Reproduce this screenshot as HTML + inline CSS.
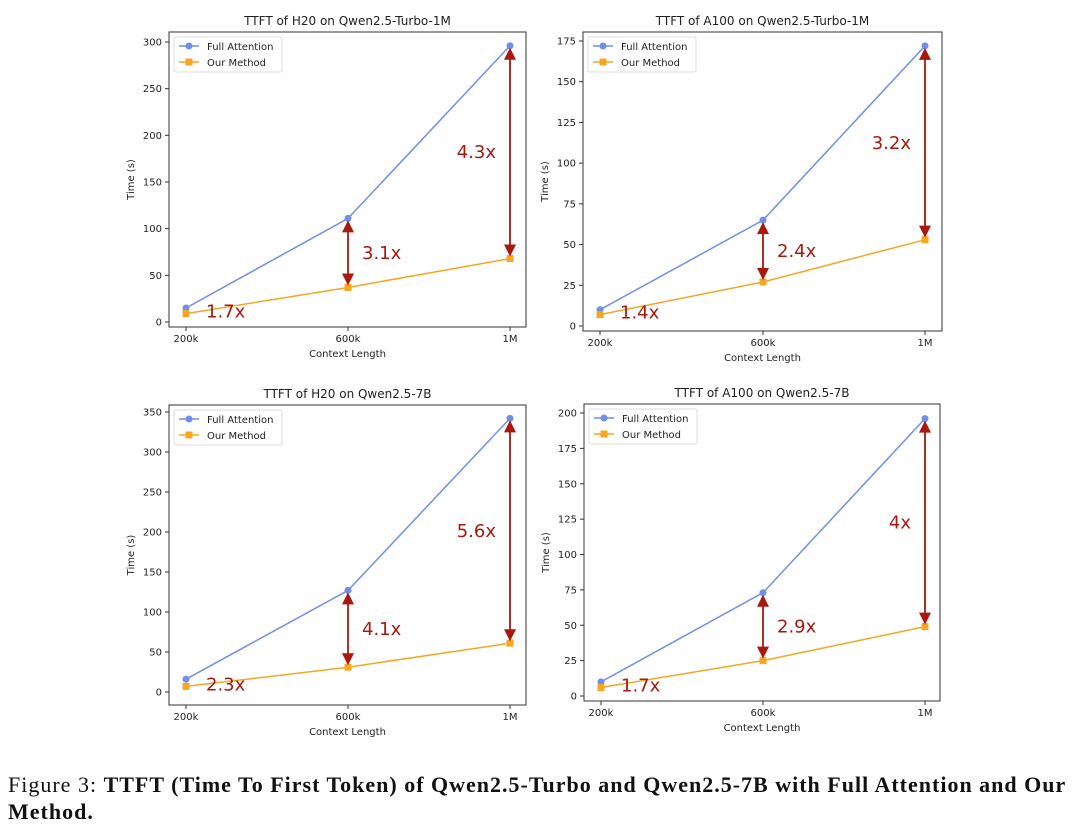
<!DOCTYPE html>
<html><head><meta charset="utf-8"><style>
body{margin:0;background:#fff;width:1080px;height:827px;overflow:hidden}
svg text{font-family:"DejaVu Sans","Liberation Sans",sans-serif}
.cap{position:absolute;left:8px;top:771px;width:1072px;font-family:"Liberation Serif",serif;font-size:22px;letter-spacing:1px;line-height:27px;color:#111}
</style></head><body>
<svg id="chart" width="1080" height="760" style="position:absolute;left:0;top:0"></svg>
<div class="cap">Figure 3: <b>TTFT (Time To First Token) of Qwen2.5-Turbo and Qwen2.5-7B with Full Attention and Our Method.</b></div>
<script>
const categories = ["200k","600k","1M"];
const titles = ["TTFT of H20 on Qwen2.5-Turbo-1M","TTFT of A100 on Qwen2.5-Turbo-1M","TTFT of H20 on Qwen2.5-7B","TTFT of A100 on Qwen2.5-7B"];
const fullAttention = [[15,111,296],[10,65,172],[16,127,342],[10,73,196]];
const ourMethod = [[9,37,68],[7,27,53],[7,31,61],[6,25,49]];
const speedups = [["1.7x","3.1x","4.3x"],["1.4x","2.4x","3.2x"],["2.3x","4.1x","5.6x"],["1.7x","2.9x","4x"]];
const yTicks = [[0,50,100,150,200,250,300],[0,25,50,75,100,125,150,175],[0,50,100,150,200,250,300,350],[0,25,50,75,100,125,150,175,200]];
const yTop = [300,175,350,200];
const panels = [
 {l:169,r:526,t:32,b:327,y0:322,y1:42,x:[186,348,510]},
 {l:583,r:942,t:32,b:331,y0:326,y1:41,x:[600,763,925]},
 {l:169,r:526,t:405,b:705,y0:692,y1:412,x:[186,348,510]},
 {l:584,r:940,t:404,b:701,y0:696,y1:413,x:[601,763,925]}];
const NS="http://www.w3.org/2000/svg";
const svg=document.getElementById('chart');
function mk(tag,attrs,parent,txt){const e=document.createElementNS(NS,tag);for(const k in attrs)e.setAttribute(k,attrs[k]);if(txt!==undefined)e.textContent=txt;(parent||svg).appendChild(e);return e;}
const RED="#a8180f",BLUE="#6f8fe8",ORANGE="#f6a623";
panels.forEach((p,i)=>{
 const g=mk('g',{});
 
 
 const ys=v=>p.y0+(p.y1-p.y0)*v/yTop[i];
 const xs=j=>p.x[j];
 const box=mk('rect',{x:p.l,y:p.t,width:p.r-p.l,height:p.b-p.t,fill:'none',stroke:'#333','stroke-width':1},g);
 
 
 const tt=mk('text',{x:(p.l+p.r)/2,y:p.t-7,'text-anchor':'middle','font-size':12,fill:'#222'},g,titles[i]);
 
 
 yTicks[i].forEach(v=>{const y=ys(v);mk('line',{x1:p.l-4,x2:p.l,y1:y,y2:y,stroke:'#333'},g);
  const t=mk('text',{x:p.l-7,y:y+3.5,'text-anchor':'end','font-size':10,fill:'#222'},g,v);
  
  });
 categories.forEach((c,j)=>{const x=xs(j);mk('line',{x1:x,x2:x,y1:p.b,y2:p.b+4,stroke:'#333'},g);
  const t=mk('text',{x:x,y:p.b+15,'text-anchor':'middle','font-size':10,fill:'#222'},g,c);
  
  });
 const xt=mk('text',{x:(p.l+p.r)/2,y:p.b+30,'text-anchor':'middle','font-size':10,fill:'#222'},g,'Context Length');
 
 
 const yx=p.l-35,yy=(p.t+p.b)/2;
 const yt=mk('text',{x:yx,y:yy,'text-anchor':'middle','font-size':10,fill:'#222',transform:`rotate(-90 ${yx} ${yy})`},g,'Time (s)');
 
 
 const fa=mk('polyline',{points:fullAttention[i].map((v,j)=>xs(j)+','+ys(v)).join(' '),fill:'none',stroke:BLUE,'stroke-width':1.5},g);
 
 
 const om=mk('polyline',{points:ourMethod[i].map((v,j)=>xs(j)+','+ys(v)).join(' '),fill:'none',stroke:ORANGE,'stroke-width':1.5},g);
 
 
 fullAttention[i].forEach((v,j)=>{const c=mk('circle',{cx:xs(j),cy:ys(v),r:3.5,fill:BLUE},g);
  
  });
 ourMethod[i].forEach((v,j)=>{const c=mk('rect',{x:xs(j)-3.5,y:ys(v)-3.5,width:7,height:7,fill:ORANGE},g);
  
  });
 speedups[i].forEach((s,j)=>{
  const yA=ys(fullAttention[i][j]),yB=ys(ourMethod[i][j]),x=xs(j);
  let lx,ly,anc='start';
  if(j===0){lx=x+20;ly=yB+4;}
  else{
   const a=mk('g',{},g);
   
   
   mk('line',{x1:x,x2:x,y1:yA+12,y2:yB-12,stroke:RED,'stroke-width':1.8},a);
   mk('polygon',{points:`${x},${yA+2} ${x-6},${yA+14} ${x+6},${yA+14}`,fill:RED},a);
   mk('polygon',{points:`${x},${yB-2} ${x-6},${yB-14} ${x+6},${yB-14}`,fill:RED},a);
   ly=(yA+yB)/2+6;
   if(j===1){lx=x+14;}else{lx=x-14;anc='end';}
  }
  const t=mk('text',{x:lx,y:ly,'text-anchor':anc,'font-size':18,fill:RED},g,s);
  
  
 });
 const lg=mk('g',{},g);
 
 
 const lx=p.l+5,ly=p.t+5;
 mk('rect',{x:lx,y:ly,width:108,height:35,fill:'#fff',stroke:'#ddd',rx:2},lg);
 mk('line',{x1:lx+5,x2:lx+25,y1:ly+9,y2:ly+9,stroke:BLUE,'stroke-width':1.5},lg);
 mk('circle',{cx:lx+15,cy:ly+9,r:3.5,fill:BLUE},lg);
 mk('text',{x:lx+33,y:ly+13,'font-size':10,fill:'#222'},lg,'Full Attention');
 mk('line',{x1:lx+5,x2:lx+25,y1:ly+25,y2:ly+25,stroke:ORANGE,'stroke-width':1.5},lg);
 mk('rect',{x:lx+11.5,y:ly+21.5,width:7,height:7,fill:ORANGE},lg);
 mk('text',{x:lx+33,y:ly+29,'font-size':10,fill:'#222'},lg,'Our Method');
});
</script>
</body></html>
